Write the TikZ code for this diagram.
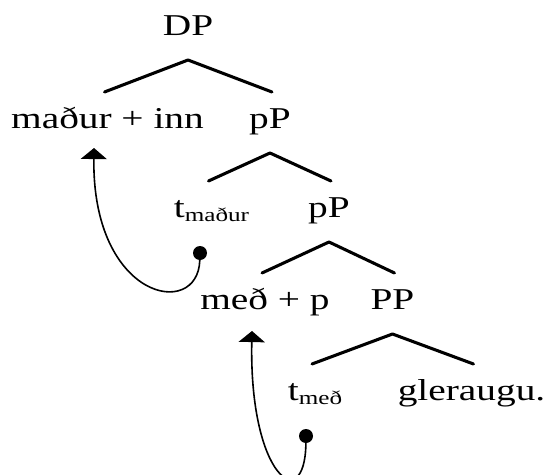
\documentclass[tikz,border=0pt]{standalone}
\usepackage{fontspec}
\setmainfont{Liberation Serif}[FakeStretch=1.3]
\usetikzlibrary{arrows.meta}
\newcommand\trc[1]{t\raisebox{-3pt}{\fontsize{14.5pt}{16pt}\selectfont #1}}

\begin{document}
\begin{tikzpicture}[x=0.75pt,y=-0.75pt,line join=round,line cap=round,
  word/.style={anchor=base,inner sep=0pt,font=\fontsize{22.7pt}{27pt}\selectfont},
  branch/.style={line width=2.3pt},
  dot/.style={circle,fill=black,inner sep=0pt,minimum size=10.5pt},
  move/.style={-{Triangle[width=19.5pt,length=8.3pt]},line width=1.2pt}]
  \fill[white] (0,0) rectangle (547,475);
  \useasboundingbox (0,0) rectangle (547,475);

  % ===== tree words =====
  \node[word] (dp) at (188,35) {DP};
  \node[word] (md) at (107.5,128) {maður + inn};
  \node[word] (pa) at (270,128) {pP};
  \node[word] (tm) at (211.5,217) {\trc{maður}};
  \node[word] (pb) at (329,217) {pP};
  \node[word] (mp) at (265,309) {með + p};
  \node[word] (PP) at (392.5,309) {PP};
  \node[word] (tmed) at (315,400) {\trc{með}};
  \node[word] (gl) at (471.5,400) {gleraugu.};

  % ===== branches =====
  \foreach \p/\l/\r in {dp/md/pa,pa/tm/pb,pb/mp/PP,PP/tmed/gl}{
    \draw[branch] ([shift={(-3,-36)}]\l.base) -- ([shift={(0,25)}]\p.base)
      -- ([shift={(2,-36)}]\r.base);
  }

  % ===== movement arrows =====
  \node[dot] (d1) at (200,253) {};
  \node[dot] (d2) at (306,436) {};
  \draw[move] (d1) .. controls +(-2,67) and +(-2,152) .. ([shift={(-13.5,20)}]md.base);
  \draw[move] (d2) .. controls +(-1,80) and +(-3,147) .. ([shift={(-13,22)}]mp.base);
\end{tikzpicture}
\end{document}
